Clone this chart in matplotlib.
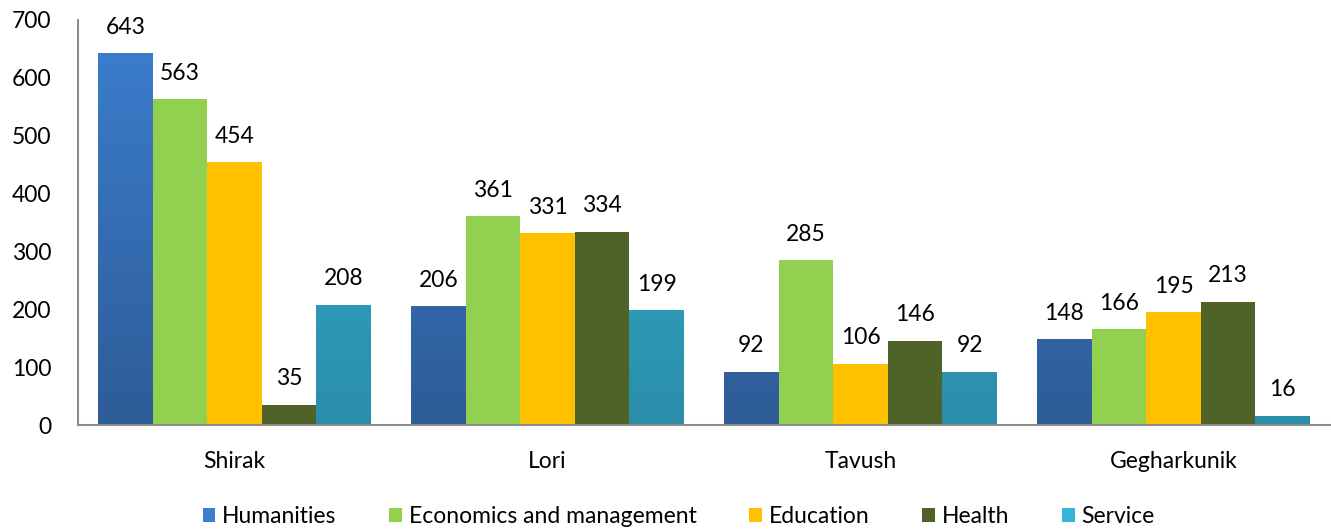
import numpy as np
import matplotlib.pyplot as plt
from matplotlib.colors import LinearSegmentedColormap

regions = ["Shirak", "Lori", "Tavush", "Gegharkunik"]
series = ["Humanities", "Economics and management", "Education", "Health", "Service"]
humanities = [643, 206, 92, 148]
economics = [563, 361, 285, 166]
education = [454, 331, 106, 195]
health = [35, 334, 146, 213]
service = [208, 199, 92, 16]
values = [humanities, economics, education, health, service]

# top colour, bottom colour (blue and cyan have a vertical gradient)
colors = [("#3c7fd0", "#2e5c97"), ("#92d050", "#92d050"), ("#ffc000", "#ffc000"),
          ("#4f6228", "#4f6228"), ("#35b5d8", "#2a8ea8")]

plt.rcParams['font.family'] = ['Lato', 'DejaVu Sans']
fig = plt.figure(figsize=(13.31, 5.29), dpi=100)
ax = fig.add_axes([78 / 1331, 104 / 529, 1252 / 1331, 405 / 529])

x = np.arange(len(regions))
w = 0.1745
for i, (name, vals, (c1, c2)) in enumerate(zip(series, values, colors)):
    pos = x + (i - 2) * w
    bars = ax.bar(pos, vals, w, color=c1, label=name, zorder=2)
    if c1 != c2:
        cmap = LinearSegmentedColormap.from_list(name, [c2, c1])
        grad = np.linspace(0, 1, 256).reshape(-1, 1)
        for b in bars:
            bx, bw, bh = b.get_x(), b.get_width(), b.get_height()
            im = ax.imshow(grad, cmap=cmap, origin='lower', aspect='auto',
                           extent=[bx, bx + bw, 0, 700], zorder=2.5)
            im.set_clip_path(b)
    for p, v in zip(pos, vals):
        ax.annotate(str(v), (p, v), xytext=(0, 11), textcoords='offset points',
                    ha='center', va='bottom', fontsize=16.5)

ax.set_xlim(-0.5, 3.5)
ax.set_ylim(0, 700)
ax.set_yticks(range(0, 701, 100))
ax.set_xticks(x)
ax.set_xticklabels(regions)
ax.tick_params(axis='both', length=0, labelsize=16.5)
ax.tick_params(axis='x', pad=19)
ax.tick_params(axis='y', pad=19)
for s in ['top', 'right']:
    ax.spines[s].set_visible(False)
for s in ['left', 'bottom']:
    ax.spines[s].set_color('#8c8c8c')
    ax.spines[s].set_linewidth(1.5)

leg = fig.legend(loc='lower center', ncol=5, frameon=False, fontsize=16.5,
                 bbox_to_anchor=(0.51, -0.035), handlelength=0.55, handleheight=0.55,
                 handletextpad=0.3, columnspacing=2.3)

fig.savefig("out.png", dpi=100)
